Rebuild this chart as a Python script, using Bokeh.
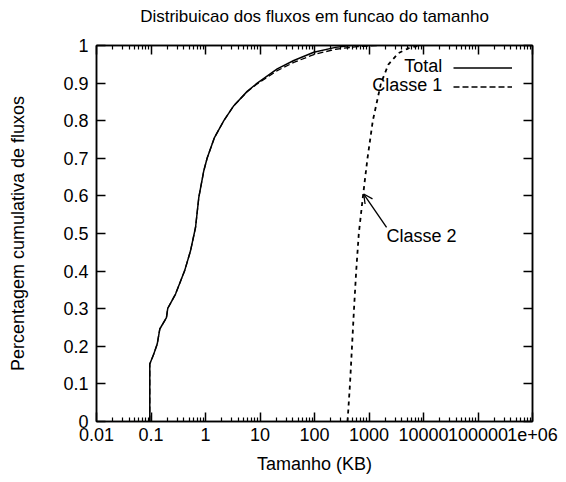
from bokeh.plotting import figure
from bokeh.models import (LogAxis, LinearAxis, FixedTicker, CustomJSTickFormatter,
                          Legend, LegendItem, Label, Arrow, OpenHead, Range1d)
from bokeh.embed import file_html
from bokeh.resources import INLINE

# ---------------- data ----------------
title_text = "Distribuicao dos fluxos em funcao do tamanho"
x_label = "Tamanho (KB)"
y_label = "Percentagem cumulativa de fluxos"

total_x = [0.095, 0.095, 0.112, 0.130, 0.145, 0.192, 0.203, 0.282, 0.412, 0.531, 0.656,
           0.754, 0.931, 1.07, 1.46, 2.17, 3.31, 5.82, 8.9, 20.7, 41.7, 97, 243, 460]
total_y = [0.0, 0.153, 0.179, 0.206, 0.246, 0.276, 0.301, 0.339, 0.400, 0.454, 0.516,
           0.596, 0.667, 0.700, 0.755, 0.800, 0.840, 0.878, 0.900, 0.938, 0.960, 0.982, 0.995, 1.0]

classe1_x = [0.095, 0.095, 0.112, 0.130, 0.145, 0.192, 0.203, 0.282, 0.412, 0.531, 0.656,
             0.754, 0.931, 1.07, 1.46, 2.17, 3.31, 5.82, 8.9, 20.7, 41.7, 97, 243, 600, 1500]
classe1_y = [0.0, 0.153, 0.179, 0.206, 0.246, 0.276, 0.301, 0.339, 0.400, 0.454, 0.516,
             0.596, 0.667, 0.700, 0.755, 0.800, 0.840, 0.877, 0.898, 0.933, 0.955, 0.976, 0.990, 0.997, 1.0]

classe2_x = [404, 448, 488, 531, 582, 650, 776, 938, 1175, 1660, 2280, 3480, 5770, 8810]
classe2_y = [0.0, 0.1, 0.2, 0.3, 0.4, 0.5, 0.6, 0.7, 0.8, 0.9, 0.95, 0.98, 0.995, 1.0]

x_tick_values = [0.01, 0.1, 1, 10, 100, 1000, 10000, 100000, 1000000]
x_tick_labels = ["0.01", "0.1", "1", "10", "100", "1000", "10000", "100000", "1e+06"]
y_tick_values = [0, 0.1, 0.2, 0.3, 0.4, 0.5, 0.6, 0.7, 0.8, 0.9, 1.0]
y_tick_labels = ["0", "0.1", "0.2", "0.3", "0.4", "0.5", "0.6", "0.7", "0.8", "0.9", "1"]

legend_labels = ["Total", "Classe 1"]
annotation_label = "Classe 2"

# ---------------- figure ----------------
FONT = "Liberation Sans"
FS = "18px"

x_minor = [m * d for d in x_tick_values[:-1] for m in range(2, 10)]

p = figure(width=566, height=482, x_axis_type="log",
           x_range=Range1d(x_tick_values[0], x_tick_values[-1]),
           y_range=Range1d(y_tick_values[0], y_tick_values[-1]),
           output_backend="svg", toolbar_location=None,
           min_border_left=96, min_border_right=34, min_border_top=45, min_border_bottom=61)
p.background_fill_color = "white"
p.border_fill_color = "white"
p.outline_line_color = "black"
p.outline_line_width = 1.5
p.xgrid.visible = False
p.ygrid.visible = False

xt = FixedTicker(ticks=x_tick_values, minor_ticks=x_minor)
yt = FixedTicker(ticks=y_tick_values)
xfmt = CustomJSTickFormatter(args=dict(vals=x_tick_values, labs=x_tick_labels), code="""
    let best = 0, bd = 1e9;
    for (let i = 0; i < vals.length; i++) {
        const d = Math.abs(Math.log10(vals[i]) - Math.log10(tick));
        if (d < bd) { bd = d; best = i; }
    }
    return labs[best];
""")
yfmt = CustomJSTickFormatter(args=dict(vals=y_tick_values, labs=y_tick_labels), code="""
    let best = 0, bd = 1e9;
    for (let i = 0; i < vals.length; i++) {
        const d = Math.abs(vals[i] - tick);
        if (d < bd) { bd = d; best = i; }
    }
    return labs[best];
""")
blank = CustomJSTickFormatter(code="return '';")


def style_axis(ax, show_labels, minor):
    ax.axis_line_color = "black"
    ax.axis_line_width = 1.5
    ax.major_tick_in = 9
    ax.major_tick_out = 0
    ax.major_tick_line_width = 1.5
    ax.major_tick_line_color = "black"
    if minor:
        ax.minor_tick_in = 4
        ax.minor_tick_out = 0
        ax.minor_tick_line_width = 1.2
        ax.minor_tick_line_color = "black"
    else:
        ax.minor_tick_line_color = None
    ax.major_label_text_font = FONT
    ax.major_label_text_font_size = FS if show_labels else "0px"
    ax.major_label_text_color = "black"
    ax.axis_label_text_font = FONT
    ax.axis_label_text_font_size = FS
    ax.axis_label_text_font_style = "normal"
    ax.axis_label_text_color = "black"


xb = p.xaxis[0]
xb.ticker = xt
xb.formatter = xfmt
xb.axis_label = x_label
style_axis(xb, True, True)
xb.major_label_standoff = 6
xb.axis_label_standoff = 10

yl = p.yaxis[0]
yl.ticker = yt
yl.formatter = yfmt
yl.axis_label = y_label
style_axis(yl, True, False)
yl.major_label_standoff = 8
yl.axis_label_standoff = 32

# top axis: mirrored ticks, carries the chart title as its label
xtop = LogAxis(ticker=xt, formatter=blank, major_label_standoff=0)
style_axis(xtop, False, True)
xtop.axis_label = title_text
xtop.axis_label_text_font_size = "17px"
xtop.axis_label_standoff = 20
p.add_layout(xtop, "above")

yright = LinearAxis(ticker=yt, formatter=blank, major_label_standoff=0)
style_axis(yright, False, False)
p.add_layout(yright, "right")

# ---------------- curves ----------------
r_total = p.line(total_x, total_y, line_color="black", line_width=1.5)
r_c1 = p.line(classe1_x, classe1_y, line_color="black", line_width=1.3, line_dash="6 3")
r_c2 = p.line(classe2_x, classe2_y, line_color="black", line_width=1.8, line_dash="4 4")

# ---------------- legend (gnuplot style: text then sample) ----------------
legend = Legend(items=[LegendItem(label=" ", renderers=[r_total]),
                       LegendItem(label=" ", renderers=[r_c1])],
                location=(357, 325), glyph_width=59, glyph_height=19,
                label_width=0, label_height=19, label_standoff=0, padding=0, spacing=0,
                label_text_font_size="10px", border_line_color=None,
                background_fill_alpha=0)
p.add_layout(legend, "center")

p.add_layout(Label(x=22000, y=0.946, text=legend_labels[0], text_align="right",
                   text_baseline="middle", text_font=FONT, text_font_size=FS,
                   text_color="black"))
p.add_layout(Label(x=22000, y=0.895, text=legend_labels[1], text_align="right",
                   text_baseline="middle", text_font=FONT, text_font_size=FS,
                   text_color="black"))

# ---------------- annotation ----------------
p.add_layout(Arrow(end=OpenHead(size=9, line_width=1.3, line_color="black"),
                   x_start=2100, y_start=0.516, x_end=800, y_end=0.605,
                   line_width=1.3, line_color="black"))
p.add_layout(Label(x=2100, y=0.494, text=annotation_label, text_align="left",
                   text_baseline="middle", text_font=FONT, text_font_size=FS,
                   text_color="black"))

open("out.html", "w").write(file_html(p, INLINE))
